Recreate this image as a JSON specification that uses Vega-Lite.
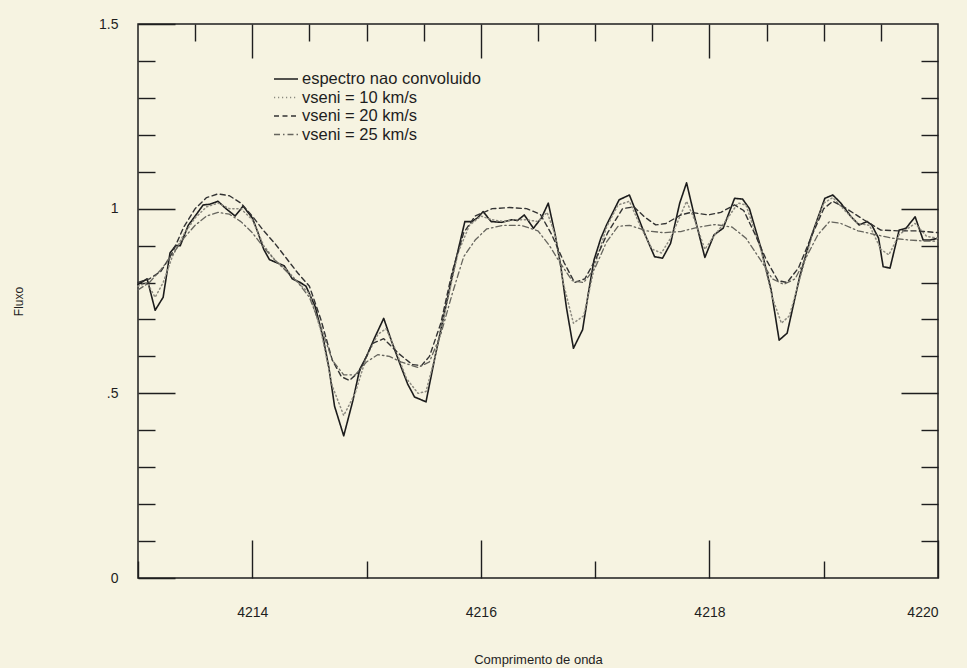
{
  "$schema": "https://vega.github.io/schema/vega-lite/v6.json",
  "width": 800,
  "height": 554,
  "autosize": {"type": "none"},
  "padding": {"left": 138, "top": 24, "right": 29, "bottom": 90},
  "background": "#f6f3e1",
  "config": {
    "view": {"stroke": "#1e1e1e", "strokeWidth": 1.5},
    "font": "Liberation Sans",
    "axis": {"domain": false, "grid": false, "tickColor": "#1e1e1e", "tickWidth": 1.4, "labelColor": "#1e1e1e", "titleColor": "#1e1e1e", "labelFont": "Liberation Sans", "titleFont": "Liberation Sans", "titleFontWeight": "normal"},
    "legend": {"title": null, "orient": "none", "legendX": 139, "legendY": 46, "symbolType": "M-1.5,0H1.5", "symbolSize": 256, "labelFontSize": 16.5, "labelFont": "Liberation Sans", "labelColor": "#1e1e1e", "labelOffset": 7, "labelLimit": 400, "rowPadding": 0.5, "padding": 0, "symbolFillColor": "transparent"}
  },
  "datasets": {
    "spec": [
      {"w": 4213.00, "f": 0.795, "s": "espectro nao convoluido"},
      {"w": 4213.08, "f": 0.81, "s": "espectro nao convoluido"},
      {"w": 4213.15, "f": 0.725, "s": "espectro nao convoluido"},
      {"w": 4213.22, "f": 0.76, "s": "espectro nao convoluido"},
      {"w": 4213.28, "f": 0.88, "s": "espectro nao convoluido"},
      {"w": 4213.33, "f": 0.90, "s": "espectro nao convoluido"},
      {"w": 4213.37, "f": 0.90, "s": "espectro nao convoluido"},
      {"w": 4213.44, "f": 0.955, "s": "espectro nao convoluido"},
      {"w": 4213.50, "f": 0.98, "s": "espectro nao convoluido"},
      {"w": 4213.57, "f": 1.01, "s": "espectro nao convoluido"},
      {"w": 4213.63, "f": 1.012, "s": "espectro nao convoluido"},
      {"w": 4213.70, "f": 1.02, "s": "espectro nao convoluido"},
      {"w": 4213.77, "f": 1.00, "s": "espectro nao convoluido"},
      {"w": 4213.85, "f": 0.98, "s": "espectro nao convoluido"},
      {"w": 4213.92, "f": 1.007, "s": "espectro nao convoluido"},
      {"w": 4214.00, "f": 0.975, "s": "espectro nao convoluido"},
      {"w": 4214.05, "f": 0.935, "s": "espectro nao convoluido"},
      {"w": 4214.10, "f": 0.89, "s": "espectro nao convoluido"},
      {"w": 4214.15, "f": 0.862, "s": "espectro nao convoluido"},
      {"w": 4214.22, "f": 0.853, "s": "espectro nao convoluido"},
      {"w": 4214.28, "f": 0.845, "s": "espectro nao convoluido"},
      {"w": 4214.35, "f": 0.81, "s": "espectro nao convoluido"},
      {"w": 4214.42, "f": 0.80, "s": "espectro nao convoluido"},
      {"w": 4214.47, "f": 0.79, "s": "espectro nao convoluido"},
      {"w": 4214.55, "f": 0.735, "s": "espectro nao convoluido"},
      {"w": 4214.62, "f": 0.65, "s": "espectro nao convoluido"},
      {"w": 4214.67, "f": 0.57, "s": "espectro nao convoluido"},
      {"w": 4214.72, "f": 0.465, "s": "espectro nao convoluido"},
      {"w": 4214.80, "f": 0.385, "s": "espectro nao convoluido"},
      {"w": 4214.88, "f": 0.48, "s": "espectro nao convoluido"},
      {"w": 4214.94, "f": 0.565, "s": "espectro nao convoluido"},
      {"w": 4215.00, "f": 0.60, "s": "espectro nao convoluido"},
      {"w": 4215.07, "f": 0.65, "s": "espectro nao convoluido"},
      {"w": 4215.15, "f": 0.703, "s": "espectro nao convoluido"},
      {"w": 4215.22, "f": 0.64, "s": "espectro nao convoluido"},
      {"w": 4215.30, "f": 0.573, "s": "espectro nao convoluido"},
      {"w": 4215.36, "f": 0.525, "s": "espectro nao convoluido"},
      {"w": 4215.42, "f": 0.49, "s": "espectro nao convoluido"},
      {"w": 4215.52, "f": 0.477, "s": "espectro nao convoluido"},
      {"w": 4215.60, "f": 0.60, "s": "espectro nao convoluido"},
      {"w": 4215.70, "f": 0.745, "s": "espectro nao convoluido"},
      {"w": 4215.78, "f": 0.86, "s": "espectro nao convoluido"},
      {"w": 4215.86, "f": 0.965, "s": "espectro nao convoluido"},
      {"w": 4215.92, "f": 0.965, "s": "espectro nao convoluido"},
      {"w": 4215.97, "f": 0.975, "s": "espectro nao convoluido"},
      {"w": 4216.02, "f": 0.992, "s": "espectro nao convoluido"},
      {"w": 4216.09, "f": 0.965, "s": "espectro nao convoluido"},
      {"w": 4216.18, "f": 0.963, "s": "espectro nao convoluido"},
      {"w": 4216.27, "f": 0.97, "s": "espectro nao convoluido"},
      {"w": 4216.32, "f": 0.968, "s": "espectro nao convoluido"},
      {"w": 4216.38, "f": 0.983, "s": "espectro nao convoluido"},
      {"w": 4216.46, "f": 0.947, "s": "espectro nao convoluido"},
      {"w": 4216.53, "f": 0.975, "s": "espectro nao convoluido"},
      {"w": 4216.59, "f": 1.015, "s": "espectro nao convoluido"},
      {"w": 4216.65, "f": 0.93, "s": "espectro nao convoluido"},
      {"w": 4216.70, "f": 0.843, "s": "espectro nao convoluido"},
      {"w": 4216.75, "f": 0.73, "s": "espectro nao convoluido"},
      {"w": 4216.81, "f": 0.622, "s": "espectro nao convoluido"},
      {"w": 4216.89, "f": 0.672, "s": "espectro nao convoluido"},
      {"w": 4216.94, "f": 0.77, "s": "espectro nao convoluido"},
      {"w": 4216.99, "f": 0.861, "s": "espectro nao convoluido"},
      {"w": 4217.05, "f": 0.92, "s": "espectro nao convoluido"},
      {"w": 4217.10, "f": 0.956, "s": "espectro nao convoluido"},
      {"w": 4217.21, "f": 1.024, "s": "espectro nao convoluido"},
      {"w": 4217.30, "f": 1.037, "s": "espectro nao convoluido"},
      {"w": 4217.36, "f": 0.99, "s": "espectro nao convoluido"},
      {"w": 4217.42, "f": 0.942, "s": "espectro nao convoluido"},
      {"w": 4217.52, "f": 0.87, "s": "espectro nao convoluido"},
      {"w": 4217.59, "f": 0.866, "s": "espectro nao convoluido"},
      {"w": 4217.66, "f": 0.906, "s": "espectro nao convoluido"},
      {"w": 4217.74, "f": 1.015, "s": "espectro nao convoluido"},
      {"w": 4217.80, "f": 1.07, "s": "espectro nao convoluido"},
      {"w": 4217.87, "f": 0.978, "s": "espectro nao convoluido"},
      {"w": 4217.96, "f": 0.868, "s": "espectro nao convoluido"},
      {"w": 4218.04, "f": 0.929, "s": "espectro nao convoluido"},
      {"w": 4218.12, "f": 0.947, "s": "espectro nao convoluido"},
      {"w": 4218.22, "f": 1.028, "s": "espectro nao convoluido"},
      {"w": 4218.29, "f": 1.026, "s": "espectro nao convoluido"},
      {"w": 4218.35, "f": 1.0, "s": "espectro nao convoluido"},
      {"w": 4218.45, "f": 0.894, "s": "espectro nao convoluido"},
      {"w": 4218.54, "f": 0.78, "s": "espectro nao convoluido"},
      {"w": 4218.61, "f": 0.644, "s": "espectro nao convoluido"},
      {"w": 4218.68, "f": 0.663, "s": "espectro nao convoluido"},
      {"w": 4218.79, "f": 0.816, "s": "espectro nao convoluido"},
      {"w": 4218.89, "f": 0.924, "s": "espectro nao convoluido"},
      {"w": 4219.01, "f": 1.028, "s": "espectro nao convoluido"},
      {"w": 4219.08, "f": 1.037, "s": "espectro nao convoluido"},
      {"w": 4219.15, "f": 1.015, "s": "espectro nao convoluido"},
      {"w": 4219.24, "f": 0.978, "s": "espectro nao convoluido"},
      {"w": 4219.31, "f": 0.956, "s": "espectro nao convoluido"},
      {"w": 4219.38, "f": 0.965, "s": "espectro nao convoluido"},
      {"w": 4219.42, "f": 0.956, "s": "espectro nao convoluido"},
      {"w": 4219.48, "f": 0.92, "s": "espectro nao convoluido"},
      {"w": 4219.52, "f": 0.843, "s": "espectro nao convoluido"},
      {"w": 4219.58, "f": 0.839, "s": "espectro nao convoluido"},
      {"w": 4219.66, "f": 0.942, "s": "espectro nao convoluido"},
      {"w": 4219.72, "f": 0.947, "s": "espectro nao convoluido"},
      {"w": 4219.80, "f": 0.978, "s": "espectro nao convoluido"},
      {"w": 4219.87, "f": 0.915, "s": "espectro nao convoluido"},
      {"w": 4219.93, "f": 0.915, "s": "espectro nao convoluido"},
      {"w": 4220.00, "f": 0.92, "s": "espectro nao convoluido"},

      {"w": 4213.00, "f": 0.79, "s": "vseni = 10 km/s"},
      {"w": 4213.08, "f": 0.80, "s": "vseni = 10 km/s"},
      {"w": 4213.15, "f": 0.76, "s": "vseni = 10 km/s"},
      {"w": 4213.22, "f": 0.80, "s": "vseni = 10 km/s"},
      {"w": 4213.30, "f": 0.87, "s": "vseni = 10 km/s"},
      {"w": 4213.40, "f": 0.93, "s": "vseni = 10 km/s"},
      {"w": 4213.50, "f": 0.975, "s": "vseni = 10 km/s"},
      {"w": 4213.60, "f": 1.005, "s": "vseni = 10 km/s"},
      {"w": 4213.70, "f": 1.015, "s": "vseni = 10 km/s"},
      {"w": 4213.80, "f": 1.00, "s": "vseni = 10 km/s"},
      {"w": 4213.90, "f": 1.00, "s": "vseni = 10 km/s"},
      {"w": 4214.00, "f": 0.97, "s": "vseni = 10 km/s"},
      {"w": 4214.10, "f": 0.90, "s": "vseni = 10 km/s"},
      {"w": 4214.20, "f": 0.86, "s": "vseni = 10 km/s"},
      {"w": 4214.30, "f": 0.835, "s": "vseni = 10 km/s"},
      {"w": 4214.40, "f": 0.80, "s": "vseni = 10 km/s"},
      {"w": 4214.50, "f": 0.77, "s": "vseni = 10 km/s"},
      {"w": 4214.60, "f": 0.67, "s": "vseni = 10 km/s"},
      {"w": 4214.70, "f": 0.52, "s": "vseni = 10 km/s"},
      {"w": 4214.80, "f": 0.44, "s": "vseni = 10 km/s"},
      {"w": 4214.90, "f": 0.50, "s": "vseni = 10 km/s"},
      {"w": 4215.00, "f": 0.60, "s": "vseni = 10 km/s"},
      {"w": 4215.10, "f": 0.66, "s": "vseni = 10 km/s"},
      {"w": 4215.17, "f": 0.675, "s": "vseni = 10 km/s"},
      {"w": 4215.25, "f": 0.62, "s": "vseni = 10 km/s"},
      {"w": 4215.35, "f": 0.54, "s": "vseni = 10 km/s"},
      {"w": 4215.45, "f": 0.50, "s": "vseni = 10 km/s"},
      {"w": 4215.52, "f": 0.505, "s": "vseni = 10 km/s"},
      {"w": 4215.60, "f": 0.60, "s": "vseni = 10 km/s"},
      {"w": 4215.70, "f": 0.74, "s": "vseni = 10 km/s"},
      {"w": 4215.80, "f": 0.88, "s": "vseni = 10 km/s"},
      {"w": 4215.90, "f": 0.955, "s": "vseni = 10 km/s"},
      {"w": 4216.00, "f": 0.98, "s": "vseni = 10 km/s"},
      {"w": 4216.10, "f": 0.97, "s": "vseni = 10 km/s"},
      {"w": 4216.20, "f": 0.965, "s": "vseni = 10 km/s"},
      {"w": 4216.30, "f": 0.97, "s": "vseni = 10 km/s"},
      {"w": 4216.40, "f": 0.97, "s": "vseni = 10 km/s"},
      {"w": 4216.50, "f": 0.965, "s": "vseni = 10 km/s"},
      {"w": 4216.58, "f": 0.99, "s": "vseni = 10 km/s"},
      {"w": 4216.65, "f": 0.93, "s": "vseni = 10 km/s"},
      {"w": 4216.72, "f": 0.80, "s": "vseni = 10 km/s"},
      {"w": 4216.81, "f": 0.69, "s": "vseni = 10 km/s"},
      {"w": 4216.90, "f": 0.71, "s": "vseni = 10 km/s"},
      {"w": 4217.00, "f": 0.85, "s": "vseni = 10 km/s"},
      {"w": 4217.10, "f": 0.95, "s": "vseni = 10 km/s"},
      {"w": 4217.20, "f": 1.01, "s": "vseni = 10 km/s"},
      {"w": 4217.30, "f": 1.02, "s": "vseni = 10 km/s"},
      {"w": 4217.40, "f": 0.95, "s": "vseni = 10 km/s"},
      {"w": 4217.50, "f": 0.89, "s": "vseni = 10 km/s"},
      {"w": 4217.58, "f": 0.88, "s": "vseni = 10 km/s"},
      {"w": 4217.66, "f": 0.92, "s": "vseni = 10 km/s"},
      {"w": 4217.80, "f": 1.02, "s": "vseni = 10 km/s"},
      {"w": 4217.87, "f": 0.97, "s": "vseni = 10 km/s"},
      {"w": 4217.96, "f": 0.89, "s": "vseni = 10 km/s"},
      {"w": 4218.05, "f": 0.93, "s": "vseni = 10 km/s"},
      {"w": 4218.15, "f": 0.97, "s": "vseni = 10 km/s"},
      {"w": 4218.25, "f": 1.015, "s": "vseni = 10 km/s"},
      {"w": 4218.32, "f": 1.01, "s": "vseni = 10 km/s"},
      {"w": 4218.45, "f": 0.89, "s": "vseni = 10 km/s"},
      {"w": 4218.55, "f": 0.76, "s": "vseni = 10 km/s"},
      {"w": 4218.63, "f": 0.69, "s": "vseni = 10 km/s"},
      {"w": 4218.70, "f": 0.71, "s": "vseni = 10 km/s"},
      {"w": 4218.80, "f": 0.82, "s": "vseni = 10 km/s"},
      {"w": 4218.90, "f": 0.93, "s": "vseni = 10 km/s"},
      {"w": 4219.00, "f": 1.015, "s": "vseni = 10 km/s"},
      {"w": 4219.08, "f": 1.03, "s": "vseni = 10 km/s"},
      {"w": 4219.20, "f": 0.99, "s": "vseni = 10 km/s"},
      {"w": 4219.30, "f": 0.96, "s": "vseni = 10 km/s"},
      {"w": 4219.40, "f": 0.955, "s": "vseni = 10 km/s"},
      {"w": 4219.50, "f": 0.89, "s": "vseni = 10 km/s"},
      {"w": 4219.57, "f": 0.875, "s": "vseni = 10 km/s"},
      {"w": 4219.66, "f": 0.93, "s": "vseni = 10 km/s"},
      {"w": 4219.80, "f": 0.96, "s": "vseni = 10 km/s"},
      {"w": 4219.90, "f": 0.925, "s": "vseni = 10 km/s"},
      {"w": 4220.00, "f": 0.92, "s": "vseni = 10 km/s"},

      {"w": 4213.00, "f": 0.80, "s": "vseni = 20 km/s"},
      {"w": 4213.10, "f": 0.81, "s": "vseni = 20 km/s"},
      {"w": 4213.20, "f": 0.83, "s": "vseni = 20 km/s"},
      {"w": 4213.30, "f": 0.88, "s": "vseni = 20 km/s"},
      {"w": 4213.40, "f": 0.95, "s": "vseni = 20 km/s"},
      {"w": 4213.50, "f": 1.0, "s": "vseni = 20 km/s"},
      {"w": 4213.60, "f": 1.03, "s": "vseni = 20 km/s"},
      {"w": 4213.70, "f": 1.04, "s": "vseni = 20 km/s"},
      {"w": 4213.80, "f": 1.035, "s": "vseni = 20 km/s"},
      {"w": 4213.90, "f": 1.015, "s": "vseni = 20 km/s"},
      {"w": 4214.00, "f": 0.98, "s": "vseni = 20 km/s"},
      {"w": 4214.10, "f": 0.94, "s": "vseni = 20 km/s"},
      {"w": 4214.20, "f": 0.905, "s": "vseni = 20 km/s"},
      {"w": 4214.30, "f": 0.865, "s": "vseni = 20 km/s"},
      {"w": 4214.40, "f": 0.825, "s": "vseni = 20 km/s"},
      {"w": 4214.50, "f": 0.79, "s": "vseni = 20 km/s"},
      {"w": 4214.60, "f": 0.70, "s": "vseni = 20 km/s"},
      {"w": 4214.70, "f": 0.59, "s": "vseni = 20 km/s"},
      {"w": 4214.78, "f": 0.545, "s": "vseni = 20 km/s"},
      {"w": 4214.85, "f": 0.535, "s": "vseni = 20 km/s"},
      {"w": 4214.94, "f": 0.56, "s": "vseni = 20 km/s"},
      {"w": 4215.05, "f": 0.635, "s": "vseni = 20 km/s"},
      {"w": 4215.15, "f": 0.648, "s": "vseni = 20 km/s"},
      {"w": 4215.28, "f": 0.608, "s": "vseni = 20 km/s"},
      {"w": 4215.40, "f": 0.578, "s": "vseni = 20 km/s"},
      {"w": 4215.48, "f": 0.575, "s": "vseni = 20 km/s"},
      {"w": 4215.55, "f": 0.60, "s": "vseni = 20 km/s"},
      {"w": 4215.65, "f": 0.69, "s": "vseni = 20 km/s"},
      {"w": 4215.75, "f": 0.83, "s": "vseni = 20 km/s"},
      {"w": 4215.85, "f": 0.935, "s": "vseni = 20 km/s"},
      {"w": 4215.95, "f": 0.98, "s": "vseni = 20 km/s"},
      {"w": 4216.10, "f": 1.0, "s": "vseni = 20 km/s"},
      {"w": 4216.25, "f": 1.003, "s": "vseni = 20 km/s"},
      {"w": 4216.40, "f": 1.0, "s": "vseni = 20 km/s"},
      {"w": 4216.52, "f": 0.985, "s": "vseni = 20 km/s"},
      {"w": 4216.62, "f": 0.93, "s": "vseni = 20 km/s"},
      {"w": 4216.73, "f": 0.853, "s": "vseni = 20 km/s"},
      {"w": 4216.82, "f": 0.80, "s": "vseni = 20 km/s"},
      {"w": 4216.91, "f": 0.81, "s": "vseni = 20 km/s"},
      {"w": 4217.00, "f": 0.86, "s": "vseni = 20 km/s"},
      {"w": 4217.11, "f": 0.935, "s": "vseni = 20 km/s"},
      {"w": 4217.24, "f": 1.0, "s": "vseni = 20 km/s"},
      {"w": 4217.34, "f": 1.005, "s": "vseni = 20 km/s"},
      {"w": 4217.43, "f": 0.978, "s": "vseni = 20 km/s"},
      {"w": 4217.53, "f": 0.956, "s": "vseni = 20 km/s"},
      {"w": 4217.62, "f": 0.96, "s": "vseni = 20 km/s"},
      {"w": 4217.75, "f": 0.983, "s": "vseni = 20 km/s"},
      {"w": 4217.84, "f": 0.99, "s": "vseni = 20 km/s"},
      {"w": 4217.99, "f": 0.983, "s": "vseni = 20 km/s"},
      {"w": 4218.10, "f": 0.99, "s": "vseni = 20 km/s"},
      {"w": 4218.22, "f": 1.01, "s": "vseni = 20 km/s"},
      {"w": 4218.30, "f": 0.995, "s": "vseni = 20 km/s"},
      {"w": 4218.40, "f": 0.93, "s": "vseni = 20 km/s"},
      {"w": 4218.50, "f": 0.86, "s": "vseni = 20 km/s"},
      {"w": 4218.60, "f": 0.805, "s": "vseni = 20 km/s"},
      {"w": 4218.68, "f": 0.80, "s": "vseni = 20 km/s"},
      {"w": 4218.78, "f": 0.84, "s": "vseni = 20 km/s"},
      {"w": 4218.90, "f": 0.93, "s": "vseni = 20 km/s"},
      {"w": 4219.00, "f": 1.0, "s": "vseni = 20 km/s"},
      {"w": 4219.08, "f": 1.02, "s": "vseni = 20 km/s"},
      {"w": 4219.20, "f": 1.0, "s": "vseni = 20 km/s"},
      {"w": 4219.35, "f": 0.97, "s": "vseni = 20 km/s"},
      {"w": 4219.50, "f": 0.942, "s": "vseni = 20 km/s"},
      {"w": 4219.65, "f": 0.94, "s": "vseni = 20 km/s"},
      {"w": 4219.80, "f": 0.94, "s": "vseni = 20 km/s"},
      {"w": 4219.90, "f": 0.938, "s": "vseni = 20 km/s"},
      {"w": 4220.00, "f": 0.935, "s": "vseni = 20 km/s"},

      {"w": 4213.00, "f": 0.78, "s": "vseni = 25 km/s"},
      {"w": 4213.10, "f": 0.80, "s": "vseni = 25 km/s"},
      {"w": 4213.20, "f": 0.835, "s": "vseni = 25 km/s"},
      {"w": 4213.30, "f": 0.875, "s": "vseni = 25 km/s"},
      {"w": 4213.40, "f": 0.92, "s": "vseni = 25 km/s"},
      {"w": 4213.50, "f": 0.955, "s": "vseni = 25 km/s"},
      {"w": 4213.60, "f": 0.98, "s": "vseni = 25 km/s"},
      {"w": 4213.70, "f": 0.99, "s": "vseni = 25 km/s"},
      {"w": 4213.80, "f": 0.985, "s": "vseni = 25 km/s"},
      {"w": 4213.90, "f": 0.965, "s": "vseni = 25 km/s"},
      {"w": 4214.00, "f": 0.935, "s": "vseni = 25 km/s"},
      {"w": 4214.10, "f": 0.895, "s": "vseni = 25 km/s"},
      {"w": 4214.20, "f": 0.86, "s": "vseni = 25 km/s"},
      {"w": 4214.30, "f": 0.83, "s": "vseni = 25 km/s"},
      {"w": 4214.40, "f": 0.80, "s": "vseni = 25 km/s"},
      {"w": 4214.50, "f": 0.76, "s": "vseni = 25 km/s"},
      {"w": 4214.60, "f": 0.68, "s": "vseni = 25 km/s"},
      {"w": 4214.70, "f": 0.59, "s": "vseni = 25 km/s"},
      {"w": 4214.80, "f": 0.55, "s": "vseni = 25 km/s"},
      {"w": 4214.90, "f": 0.55, "s": "vseni = 25 km/s"},
      {"w": 4215.00, "f": 0.585, "s": "vseni = 25 km/s"},
      {"w": 4215.10, "f": 0.605, "s": "vseni = 25 km/s"},
      {"w": 4215.20, "f": 0.60, "s": "vseni = 25 km/s"},
      {"w": 4215.30, "f": 0.585, "s": "vseni = 25 km/s"},
      {"w": 4215.45, "f": 0.57, "s": "vseni = 25 km/s"},
      {"w": 4215.55, "f": 0.585, "s": "vseni = 25 km/s"},
      {"w": 4215.65, "f": 0.66, "s": "vseni = 25 km/s"},
      {"w": 4215.75, "f": 0.77, "s": "vseni = 25 km/s"},
      {"w": 4215.85, "f": 0.87, "s": "vseni = 25 km/s"},
      {"w": 4215.95, "f": 0.915, "s": "vseni = 25 km/s"},
      {"w": 4216.05, "f": 0.945, "s": "vseni = 25 km/s"},
      {"w": 4216.20, "f": 0.955, "s": "vseni = 25 km/s"},
      {"w": 4216.35, "f": 0.955, "s": "vseni = 25 km/s"},
      {"w": 4216.50, "f": 0.94, "s": "vseni = 25 km/s"},
      {"w": 4216.60, "f": 0.90, "s": "vseni = 25 km/s"},
      {"w": 4216.70, "f": 0.85, "s": "vseni = 25 km/s"},
      {"w": 4216.80, "f": 0.805, "s": "vseni = 25 km/s"},
      {"w": 4216.90, "f": 0.80, "s": "vseni = 25 km/s"},
      {"w": 4217.00, "f": 0.84, "s": "vseni = 25 km/s"},
      {"w": 4217.10, "f": 0.91, "s": "vseni = 25 km/s"},
      {"w": 4217.20, "f": 0.952, "s": "vseni = 25 km/s"},
      {"w": 4217.30, "f": 0.955, "s": "vseni = 25 km/s"},
      {"w": 4217.45, "f": 0.94, "s": "vseni = 25 km/s"},
      {"w": 4217.60, "f": 0.935, "s": "vseni = 25 km/s"},
      {"w": 4217.75, "f": 0.938, "s": "vseni = 25 km/s"},
      {"w": 4217.90, "f": 0.95, "s": "vseni = 25 km/s"},
      {"w": 4218.05, "f": 0.957, "s": "vseni = 25 km/s"},
      {"w": 4218.20, "f": 0.95, "s": "vseni = 25 km/s"},
      {"w": 4218.32, "f": 0.92, "s": "vseni = 25 km/s"},
      {"w": 4218.45, "f": 0.86, "s": "vseni = 25 km/s"},
      {"w": 4218.55, "f": 0.81, "s": "vseni = 25 km/s"},
      {"w": 4218.65, "f": 0.795, "s": "vseni = 25 km/s"},
      {"w": 4218.75, "f": 0.81, "s": "vseni = 25 km/s"},
      {"w": 4218.85, "f": 0.87, "s": "vseni = 25 km/s"},
      {"w": 4218.95, "f": 0.93, "s": "vseni = 25 km/s"},
      {"w": 4219.05, "f": 0.965, "s": "vseni = 25 km/s"},
      {"w": 4219.15, "f": 0.96, "s": "vseni = 25 km/s"},
      {"w": 4219.30, "f": 0.94, "s": "vseni = 25 km/s"},
      {"w": 4219.45, "f": 0.93, "s": "vseni = 25 km/s"},
      {"w": 4219.60, "f": 0.92, "s": "vseni = 25 km/s"},
      {"w": 4219.75, "f": 0.915, "s": "vseni = 25 km/s"},
      {"w": 4219.90, "f": 0.912, "s": "vseni = 25 km/s"},
      {"w": 4220.00, "f": 0.912, "s": "vseni = 25 km/s"}
    ]
  },
  "data": {"name": "spec"},
  "layer": [
    {
      "mark": {"type": "line", "interpolate": "linear", "strokeCap": "round", "strokeJoin": "round"},
      "encoding": {
        "x": {
          "field": "w", "type": "quantitative",
          "scale": {"domain": [4213, 4220], "nice": false, "zero": false},
          "axis": {
            "orient": "bottom",
            "values": [4213, 4213.5, 4214, 4214.5, 4215, 4215.5, 4216, 4216.5, 4217, 4217.5, 4218, 4218.5, 4219, 4219.5, 4220],
            "format": "d",
            "labelExpr": "(datum.value % 2 == 0) ? datum.label : ''",
            "tickSize": {"condition": {"test": "datum.value % 2 == 0", "value": -38}, "value": -17},
            "labelFontSize": 14,
            "labelPadding": 65,
            "title": "Comprimento de onda",
            "titleFontSize": 13,
            "titlePadding": 34
          }
        },
        "y": {
          "field": "f", "type": "quantitative",
          "scale": {"domain": [0, 1.5], "nice": false, "zero": true},
          "axis": {
            "orient": "left",
            "values": [0, 0.1, 0.2, 0.3, 0.4, 0.5, 0.6, 0.7, 0.8, 0.9, 1, 1.1, 1.2, 1.3, 1.4, 1.5],
            "format": "~g",
            "labelExpr": "datum.value == 0.5 ? '.5' : ((datum.value == 0 || datum.value == 1 || datum.value == 1.5) ? datum.label : '')",
            "tickSize": {"condition": {"test": "datum.value == 0 || datum.value == 0.5 || datum.value == 1 || datum.value == 1.5", "value": -37}, "value": -17},
            "labelFontSize": 14,
            "labelPadding": 57,
            "title": "Fluxo",
            "titleFontSize": 12,
            "titlePadding": 73
          }
        },
        "strokeDash": {
          "field": "s", "type": "nominal",
          "scale": {"domain": ["espectro nao convoluido", "vseni = 10 km/s", "vseni = 20 km/s", "vseni = 25 km/s"], "range": [[1, 0], [1.2, 2.8], [5, 3.5], [6, 3, 1.5, 3]]}
        },
        "color": {
          "field": "s", "type": "nominal",
          "scale": {"domain": ["espectro nao convoluido", "vseni = 10 km/s", "vseni = 20 km/s", "vseni = 25 km/s"], "range": ["#1c1c1c", "#8c8a80", "#333333", "#66655e"]}
        },
        "strokeWidth": {
          "field": "s", "type": "nominal",
          "scale": {"domain": ["espectro nao convoluido", "vseni = 10 km/s", "vseni = 20 km/s", "vseni = 25 km/s"], "range": [1.6, 1.3, 1.8, 1.3]}
        }
      }
    },
    {
      "mark": {"type": "line", "opacity": 0},
      "encoding": {
        "x": {
          "field": "w", "type": "quantitative",
          "axis": {
            "orient": "top",
            "values": [4213.5, 4214, 4214.5, 4215, 4215.5, 4216, 4216.5, 4217, 4217.5, 4218, 4218.5, 4219, 4219.5],
            "labels": false,
            "title": null,
            "tickSize": {"condition": {"test": "datum.value % 2 == 0", "value": -34}, "value": -17}
          }
        },
        "y": {
          "field": "f", "type": "quantitative",
          "axis": {
            "orient": "right",
            "values": [0.1, 0.2, 0.3, 0.4, 0.5, 0.6, 0.7, 0.8, 0.9, 1, 1.1, 1.2, 1.3, 1.4],
            "labels": false,
            "title": null,
            "tickSize": {"condition": {"test": "datum.value == 0.5 || datum.value == 1", "value": -37}, "value": -17}
          }
        }
      }
    }
  ],
  "resolve": {"axis": {"x": "independent", "y": "independent"}}
}
